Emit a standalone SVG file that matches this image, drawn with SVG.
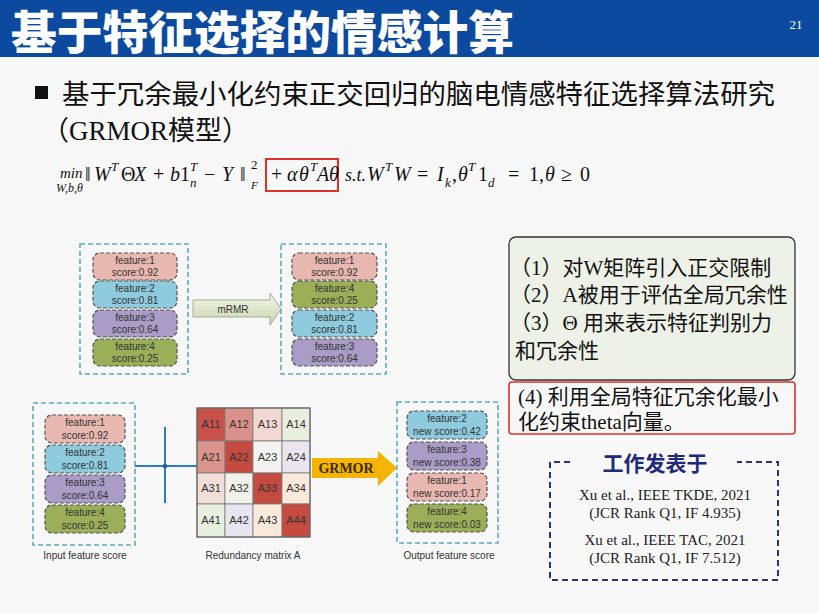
<svg xmlns="http://www.w3.org/2000/svg" width="819" height="613" viewBox="0 0 819 613">
<defs>
<linearGradient id="gm" x1="0" y1="0" x2="0" y2="1">
<stop offset="0" stop-color="#F4F7EA"/><stop offset="1" stop-color="#C9D5AC"/>
</linearGradient>
<style>
.ob{fill:none;stroke:#5AAAC8;stroke-width:1.6;stroke-dasharray:5 3}
.pill{stroke:#555;stroke-width:1.2;stroke-dasharray:4 2}
.pk{fill:#E8B8B1}.bl{fill:#8FCBDE}.pu{fill:#A99CC6}.gr{fill:#9BAF59}
.pt{font-family:"Liberation Sans",Arial,sans-serif;font-size:10px;fill:#333;text-anchor:middle}
.cap{font-family:"Liberation Sans",Arial,sans-serif;font-size:10px;fill:#333;text-anchor:middle}
.cell{stroke:#7a7a7a;stroke-width:0.8}
.ct{font-family:"Liberation Sans",Arial,sans-serif;font-size:11px;fill:#333;text-anchor:middle}
.cn{font-family:"Liberation Serif","Noto Sans CJK SC",serif;fill:#111}
.fm{font-family:"Liberation Serif","DejaVu Serif",serif;font-size:20px;fill:#111}
.it{font-style:italic}
.sm{font-size:13px}
.ref{font-family:"Liberation Serif",serif;font-size:15px;fill:#222;text-anchor:middle}
</style>
</defs>
<rect width="819" height="613" fill="#F8F8F8"/>
<g id="header">
<rect x="0" y="0" width="819" height="57" fill="#0B4A9F"/>
<text x="11" y="49" font-family="Noto Sans CJK SC,sans-serif" font-weight="900" font-size="46" fill="#fff" textLength="503" lengthAdjust="spacingAndGlyphs">基于特征选择的情感计算</text>
<text x="796" y="29" font-family="Liberation Serif,serif" font-size="13" fill="#fff" text-anchor="middle">21</text>
</g>
<g id="bullet">
<rect x="35" y="86" width="13" height="13" fill="#111"/>
<text x="62" y="104" font-family="Noto Sans CJK SC,sans-serif" font-size="27" fill="#111" textLength="713" lengthAdjust="spacingAndGlyphs">基于冗余最小化约束正交回归的脑电情感特征选择算法研究</text>
<text x="42" y="140" class="cn" font-size="27">（GRMOR模型）</text>
</g>
<g id="formula" class="fm">
<text x="60" y="178" class="it" font-size="15">min</text>
<text x="56" y="192" class="it" font-size="12">W,b,θ</text>
<text x="85" y="181">‖</text>
<text x="94" y="181" class="it">W</text>
<text x="111" y="171" class="it sm">T</text>
<text x="121" y="181">Θ</text><text x="134" y="181" class="it">X</text>
<text x="153" y="181">+</text>
<text x="170" y="181" class="it">b</text><text x="180" y="181">1</text>
<text x="190" y="171" class="it sm">T</text><text x="190" y="187" class="it sm">n</text>
<text x="204" y="181">−</text>
<text x="222" y="181" class="it">Y</text>
<text x="240" y="181">‖</text>
<text x="251" y="169" class="sm">2</text><text x="251" y="189" class="it" font-size="11">F</text>
<rect x="266" y="159" width="72" height="32" fill="none" stroke="#E0302A" stroke-width="2"/>
<text x="271" y="181">+</text>
<text x="287" y="181" class="it">α</text><text x="299" y="181" class="it">θ</text>
<text x="310" y="171" class="it sm">T</text>
<text x="317" y="181" class="it">A</text><text x="329" y="181" class="it">θ</text>
<text x="345" y="181" class="it" font-size="18">s.t.</text>
<text x="367" y="181" class="it">W</text>
<text x="385" y="171" class="it sm">T</text>
<text x="394" y="181" class="it">W</text>
<text x="417" y="181">=</text>
<text x="437" y="181" class="it">I</text><text x="445" y="187" class="it sm">k</text><text x="452" y="181">,</text>
<text x="458" y="181" class="it">θ</text><text x="468" y="171" class="it sm">T</text>
<text x="478" y="181">1</text><text x="488" y="187" class="it sm">d</text>
<text x="508" y="181">=</text>
<text x="529" y="181">1,</text>
<text x="545" y="181" class="it">θ</text>
<text x="561" y="181">≥</text>
<text x="580" y="181">0</text>
</g>
<g id="box-initial">
<rect x="80" y="244" width="108" height="130" class="ob"/>
<rect x="93" y="253" width="84" height="27" rx="7" class="pill pk"/><text class="pt" x="135" y="264">feature:1</text><text class="pt" x="135" y="276">score:0.92</text>
<rect x="93" y="281" width="84" height="27" rx="7" class="pill bl"/><text class="pt" x="135" y="292">feature:2</text><text class="pt" x="135" y="304">score:0.81</text>
<rect x="93" y="310" width="84" height="27" rx="7" class="pill pu"/><text class="pt" x="135" y="321">feature:3</text><text class="pt" x="135" y="333">score:0.64</text>
<rect x="93" y="339" width="84" height="27" rx="7" class="pill gr"/><text class="pt" x="135" y="350">feature:4</text><text class="pt" x="135" y="362">score:0.25</text>
</g>
<g id="box-mrmr">
<rect x="281" y="244" width="105" height="130" class="ob"/>
<rect x="292" y="253" width="85" height="27" rx="7" class="pill pk"/><text class="pt" x="334.5" y="264">feature:1</text><text class="pt" x="334.5" y="276">score:0.92</text>
<rect x="292" y="281" width="85" height="27" rx="7" class="pill gr"/><text class="pt" x="334.5" y="292">feature:4</text><text class="pt" x="334.5" y="304">score:0.25</text>
<rect x="292" y="310" width="85" height="27" rx="7" class="pill bl"/><text class="pt" x="334.5" y="321">feature:2</text><text class="pt" x="334.5" y="333">score:0.81</text>
<rect x="292" y="339" width="85" height="27" rx="7" class="pill pu"/><text class="pt" x="334.5" y="350">feature:3</text><text class="pt" x="334.5" y="362">score:0.64</text>
</g>
<g id="box-input">
<rect x="33" y="403" width="102" height="142" class="ob"/>
<rect x="45" y="415" width="80" height="28" rx="7" class="pill pk"/><text class="pt" x="85" y="426">feature:1</text><text class="pt" x="85" y="439">score:0.92</text>
<rect x="45" y="445" width="80" height="28" rx="7" class="pill bl"/><text class="pt" x="85" y="456">feature:2</text><text class="pt" x="85" y="469">score:0.81</text>
<rect x="45" y="475" width="80" height="28" rx="7" class="pill pu"/><text class="pt" x="85" y="486">feature:3</text><text class="pt" x="85" y="499">score:0.64</text>
<rect x="45" y="505" width="80" height="28" rx="7" class="pill gr"/><text class="pt" x="85" y="516">feature:4</text><text class="pt" x="85" y="529">score:0.25</text>
<text class="cap" x="85" y="559">Input feature score</text>
</g>
<g id="matrix">
<rect x="197" y="408" width="28" height="33" fill="#C8524A" class="cell"/><text class="ct" x="211" y="428">A11</text>
<rect x="225" y="408" width="28" height="33" fill="#DA918A" class="cell"/><text class="ct" x="239" y="428">A12</text>
<rect x="253" y="408" width="29" height="33" fill="#F2D8D4" class="cell"/><text class="ct" x="267.5" y="428">A13</text>
<rect x="282" y="408" width="28" height="33" fill="#E9EFDF" class="cell"/><text class="ct" x="296" y="428">A14</text>
<rect x="197" y="441" width="28" height="32" fill="#DB958D" class="cell"/><text class="ct" x="211" y="461">A21</text>
<rect x="225" y="441" width="28" height="32" fill="#C54B41" class="cell"/><text class="ct" x="239" y="461">A22</text>
<rect x="253" y="441" width="29" height="32" fill="#F3F3F1" class="cell"/><text class="ct" x="267.5" y="461">A23</text>
<rect x="282" y="441" width="28" height="32" fill="#E9E6EF" class="cell"/><text class="ct" x="296" y="461">A24</text>
<rect x="197" y="473" width="28" height="31" fill="#F1DED9" class="cell"/><text class="ct" x="211" y="492">A31</text>
<rect x="225" y="473" width="28" height="31" fill="#F1F1EC" class="cell"/><text class="ct" x="239" y="492">A32</text>
<rect x="253" y="473" width="29" height="31" fill="#C54B41" class="cell"/><text class="ct" x="267.5" y="492">A33</text>
<rect x="282" y="473" width="28" height="31" fill="#FBEADC" class="cell"/><text class="ct" x="296" y="492">A34</text>
<rect x="197" y="504" width="28" height="33" fill="#E7EFDE" class="cell"/><text class="ct" x="211" y="524">A41</text>
<rect x="225" y="504" width="28" height="33" fill="#E7E5F0" class="cell"/><text class="ct" x="239" y="524">A42</text>
<rect x="253" y="504" width="29" height="33" fill="#FBEADC" class="cell"/><text class="ct" x="267.5" y="524">A43</text>
<rect x="282" y="504" width="28" height="33" fill="#C54B41" class="cell"/><text class="ct" x="296" y="524">A44</text>
<rect x="197" y="408" width="113" height="129" fill="none" stroke="#666" stroke-width="1.2"/>
<text class="cap" x="253" y="559">Redundancy matrix A</text>
</g>
<g id="box-output">
<rect x="397" y="402" width="101" height="141" class="ob"/>
<rect x="407" y="411" width="80" height="28" rx="7" class="pill bl"/><text class="pt" x="447" y="422">feature:2</text><text class="pt" x="447" y="435">new score:0.42</text>
<rect x="407" y="442" width="80" height="28" rx="7" class="pill pu"/><text class="pt" x="447" y="453">feature:3</text><text class="pt" x="447" y="466">new score:0.38</text>
<rect x="407" y="473" width="80" height="28" rx="7" class="pill pk"/><text class="pt" x="447" y="484">feature:1</text><text class="pt" x="447" y="497">new score:0.17</text>
<rect x="407" y="504" width="80" height="28" rx="7" class="pill gr"/><text class="pt" x="447" y="515">feature:4</text><text class="pt" x="447" y="528">new score:0.03</text>
<text class="cap" x="449" y="559">Output feature score</text>
</g>
<g id="connectors">
<path d="M193,300 L270,300 L270,293 L281,309 L270,325 L270,317 L193,317 Z" fill="url(#gm)" stroke="#8E9C80" stroke-width="0.8"/>
<text x="233" y="313" font-family="Liberation Sans,Arial,sans-serif" font-size="10" fill="#333" text-anchor="middle">mRMR</text>
<line x1="135" y1="466" x2="197" y2="466" stroke="#2A7CC7" stroke-width="2"/>
<line x1="165" y1="427" x2="165" y2="503" stroke="#2A7CC7" stroke-width="2"/>
<circle cx="165" cy="466" r="2.2" fill="#1E5FA0"/>
<path d="M312,458 L378,458 L378,451 L397,468 L378,486 L378,478 L312,478 Z" fill="#F5B400"/>
<text x="346" y="473" font-family="Liberation Serif,serif" font-size="14" font-weight="bold" fill="#3A2C05" text-anchor="middle">GRMOR</text>
</g>
<g id="note">
<rect x="509" y="237" width="286" height="143" rx="7" fill="#EDF1E7" stroke="#333" stroke-width="1.3"/>
<text class="cn" font-size="21" x="510" y="275">（1）对W矩阵引入正交限制</text>
<text class="cn" font-size="21" x="510" y="302">（2）A被用于评估全局冗余性</text>
<text class="cn" font-size="21" x="510" y="330">（3）Θ 用来表示特征判别力</text>
<text class="cn" font-size="21" x="515" y="358">和冗余性</text>
</g>
<g id="note-red">
<rect x="509" y="382" width="286" height="52" rx="3" fill="#F8F8F8" stroke="#E0302A" stroke-width="1.6"/>
<text class="cn" font-size="21" x="518" y="404">(4) 利用全局特征冗余化最小</text>
<text class="cn" font-size="21" x="518" y="429">化约束theta向量。</text>
</g>
<g id="published">
<path d="M570,462 L550,462 L550,580 L778,580 L778,462 L737,462" fill="none" stroke="#2B2F7E" stroke-width="2" stroke-dasharray="6 4"/>
<text x="655" y="471" font-family="Noto Sans CJK SC,sans-serif" font-weight="bold" font-size="21" fill="#1F2A7A" text-anchor="middle">工作发表于</text>
<text class="ref" x="665" y="500">Xu et al., IEEE TKDE, 2021</text>
<text class="ref" x="665" y="518">(JCR Rank Q1, IF 4.935)</text>
<text class="ref" x="665" y="545">Xu et al., IEEE TAC, 2021</text>
<text class="ref" x="665" y="563">(JCR Rank Q1, IF 7.512)</text>
</g>
</svg>
